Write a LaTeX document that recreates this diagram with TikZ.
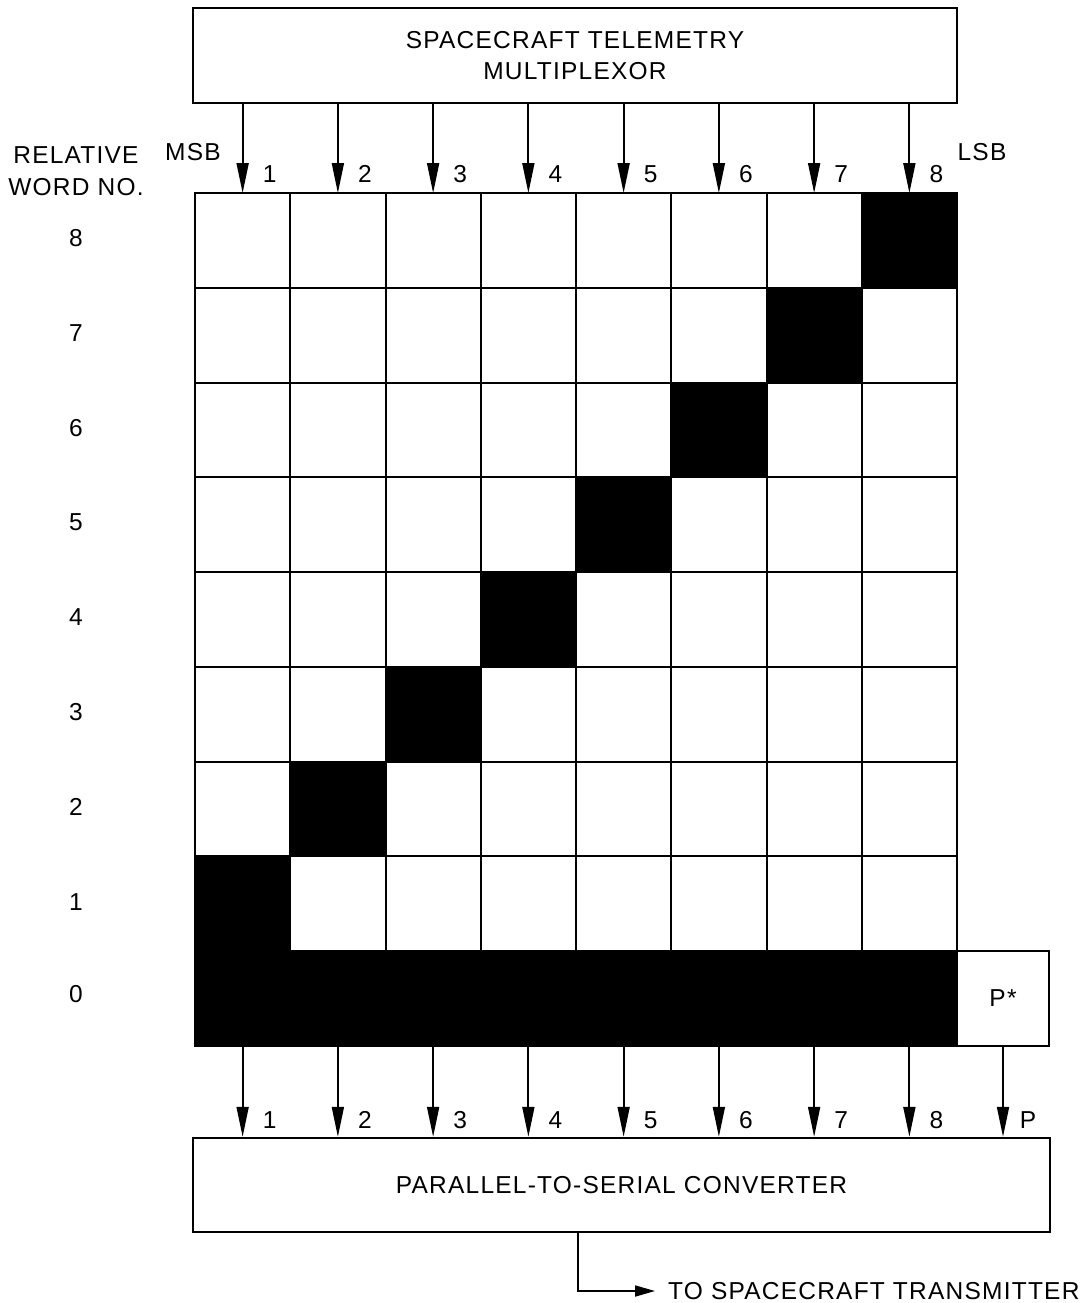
\documentclass[tikz,border=0pt]{standalone}
\usepackage{fontspec}
\setmainfont{Liberation Sans}[LetterSpace=5]
\usetikzlibrary{arrows.meta,calc}
\begin{document}
\begin{tikzpicture}[x=1pt,y=-1pt,
  font=\fontsize{24.5}{31}\selectfont,
  box/.style={draw, line width=2.4pt, align=center, inner sep=0pt},
  cellw/.style={draw, line width=2pt, fill=white, minimum width=95.25pt, minimum height=94.75pt, inner sep=0pt, outer sep=0pt},
  cellb/.style={cellw, fill=black},
  sig/.style={line width=1.8pt, -{Triangle[length=30pt,width=12pt]}},
  outsig/.style={line width=1.8pt, -{Triangle[length=20pt,width=11pt]}},
  lab/.style={inner sep=0pt}]
\useasboundingbox (0,0) rectangle (1090,1303);

% top box
\node[box, minimum width=764pt, minimum height=95pt] (mux) at (575,55.5) {SPACECRAFT TELEMETRY\\MULTIPLEXOR};

% grid cells
\foreach \r in {1,...,8}{
  \foreach \i in {1,...,8}{
    \ifnum\r=\i\relax \def\st{cellb}\else\def\st{cellw}\fi
    \node[\st] (c-\r-\i) at ({195+(\i-0.5)*95.25},{193+(8.5-\r)*94.75}) {};
  }
}
% row 0
\node[cellb, minimum width=762pt] (w0) at (576,{193+8.5*94.75}) {};
\node[cellw, minimum width=92pt] (pstar) at (1003,{193+8.5*94.75}) {P*};

% converter
\node[box, minimum width=857pt, minimum height=94pt] (conv) at (621.5,1185) {PARALLEL-TO-SERIAL CONVERTER};

% top arrows and labels
\foreach \i in {1,...,8}{
  \draw[sig] (c-8-\i.north |- mux.south) -- (c-8-\i.north);
  \node[lab] (tl\i) at ($(c-8-\i.north)+(27,-19)$) {\i};
}
\node[lab] (msb) at (193,152) {MSB};
\node[lab] (lsb) at (982,152) {LSB};

% row labels
\node[lab] (rel1) at (76,155) {RELATIVE};
\node[lab] (rel2) at (76,187) {WORD NO.};
\foreach \r in {1,...,8}{
  \node[lab] (rl\r) at (76,{193+(8.5-\r)*94.75-2}) {\r};
}
\node[lab] (rl0) at (76,{193+8.5*94.75-4}) {0};

% bottom arrows and labels
\foreach \i in {1,...,8}{
  \draw[sig] (c-1-\i.south |- w0.south) -- (c-1-\i.south |- conv.north);
  \node[lab] (bl\i) at ($(c-1-\i.south |- conv.north)+(27,-17)$) {\i};
}
\draw[sig] (pstar.south) -- (pstar.south |- conv.north);
\node[lab] (bp) at ($(pstar.south |- conv.north)+(25,-17)$) {P};

% output
\node[lab, anchor=west, inner xsep=13pt] (tx) at (655,1291) {TO SPACECRAFT TRANSMITTER};
\coordinate (o1) at (578,1291);
\draw[outsig] (conv.south -| o1) |- (tx.west);
\end{tikzpicture}
\end{document}
